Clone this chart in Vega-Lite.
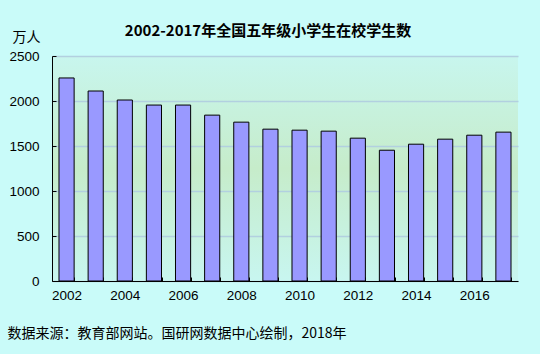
{
  "$schema": "https://vega.github.io/schema/vega-lite/v6.json",
  "width": 466,
  "height": 225,
  "autosize": {"type": "none"},
  "padding": {"left": 52, "top": 56, "right": 22, "bottom": 73},
  "background": "#c9fbf9",
  "title": {
    "text": "2002-2017年全国五年级小学生在校学生数",
    "font": "Noto Sans CJK SC",
    "fontSize": 15,
    "fontWeight": "bold",
    "color": "#000000",
    "anchor": "middle",
    "dx": -17,
    "offset": -9
  },
  "data": {
    "values": [
      {"year": "2002", "value": 2256},
      {"year": "2003", "value": 2111},
      {"year": "2004", "value": 2011},
      {"year": "2005", "value": 1955},
      {"year": "2006", "value": 1955},
      {"year": "2007", "value": 1843},
      {"year": "2008", "value": 1765},
      {"year": "2009", "value": 1687},
      {"year": "2010", "value": 1676},
      {"year": "2011", "value": 1665},
      {"year": "2012", "value": 1587},
      {"year": "2013", "value": 1453},
      {"year": "2014", "value": 1520},
      {"year": "2015", "value": 1576},
      {"year": "2016", "value": 1620},
      {"year": "2017", "value": 1654}
    ]
  },
  "mark": {"type": "bar", "fill": "#9999ff", "stroke": "#000000", "strokeWidth": 1},
  "encoding": {
    "x": {
      "field": "year",
      "type": "ordinal",
      "scale": {"paddingInner": 0.48, "paddingOuter": 0.24},
      "axis": {
        "title": "数据来源：教育部网站。国研网数据中心绘制，2018年",
        "titleFont": "Noto Sans CJK SC",
        "titleFontSize": 14,
        "titleFontWeight": "normal",
        "titleColor": "#000000",
        "titleAnchor": "start",
        "titleAlign": "left",
        "titleBaseline": "middle",
        "titleX": -45,
        "titleY": 52,
        "labelAngle": 0,
        "labelExpr": "toNumber(datum.value) % 2 == 0 ? datum.label : ''",
        "labelFont": "Liberation Sans",
        "labelFontSize": 13.5,
        "labelColor": "#000000",
        "labelPadding": 11,
        "tickBand": "extent",
        "tickSize": -4,
        "tickColor": "#000000",
        "domainColor": "#000000",
        "grid": false
      }
    },
    "y": {
      "field": "value",
      "type": "quantitative",
      "scale": {"domain": [0, 2500], "nice": false},
      "axis": {
        "values": [0, 500, 1000, 1500, 2000, 2500],
        "format": "d",
        "title": "万人",
        "titleFont": "Noto Sans CJK SC",
        "titleFontSize": 14,
        "titleFontWeight": "normal",
        "titleColor": "#000000",
        "titleAngle": 0,
        "titleAlign": "center",
        "titleBaseline": "middle",
        "titleX": -26,
        "titleY": -19,
        "labelFont": "Liberation Sans",
        "labelFontSize": 13.5,
        "labelColor": "#000000",
        "labelPadding": 17,
        "tickSize": -4,
        "tickColor": "#000000",
        "domainColor": "#000000",
        "grid": true,
        "gridColor": "#b2d0e0",
        "gridWidth": 1.5
      }
    }
  },
  "config": {
    "view": {
      "stroke": null,
      "fill": {
        "gradient": "linear",
        "x1": 0, "y1": 0, "x2": 0, "y2": 1,
        "stops": [
          {"offset": 0, "color": "#c8f6ee"},
          {"offset": 0.5, "color": "#c6ecca"},
          {"offset": 1, "color": "#c8f6f0"}
        ]
      }
    }
  }
}
